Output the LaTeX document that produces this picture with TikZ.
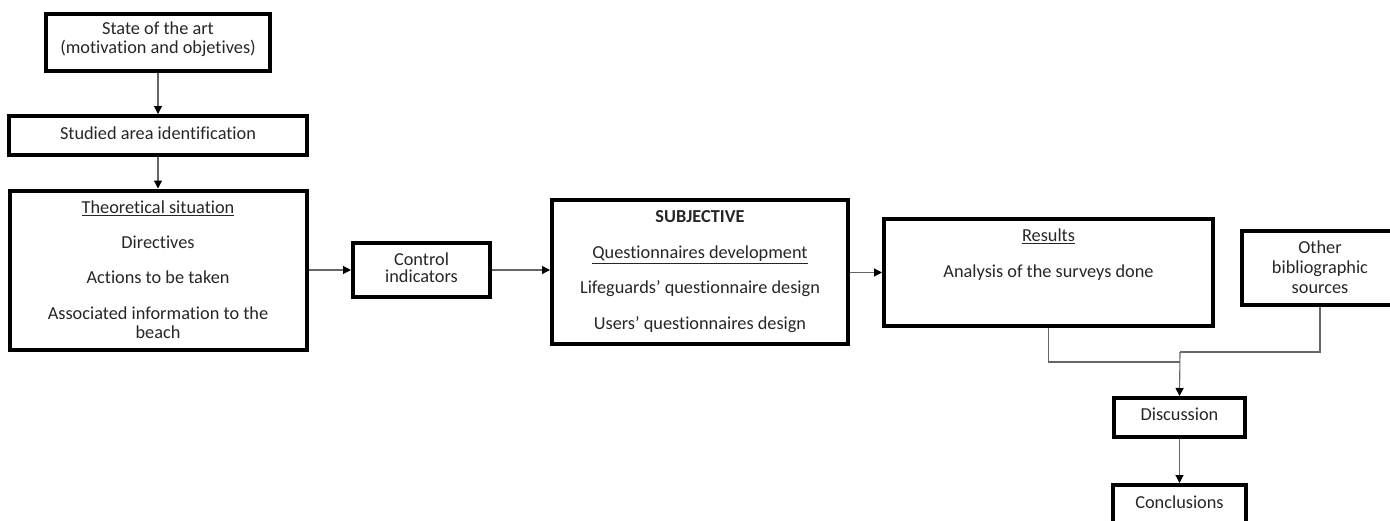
\documentclass[tikz,border=0pt]{standalone}
\usepackage{fontspec}
\setmainfont[Ligatures={NoCommon}]{Carlito}
\usetikzlibrary{arrows.meta}
\tikzset{
  box/.style={draw=black, line width=4pt, rectangle, inner sep=0pt},
  lbl/.style={inner sep=0pt, text height=13pt, text depth=4pt, yshift=-2pt, font=\fontsize{18.3}{19}\selectfont, text=black!85},
  link/.style={draw=black!60, line width=1.1pt},
  arr/.style={link, -{Triangle[length=8pt,width=8pt,color=black]}},
}
\begin{document}
\begin{tikzpicture}[x=1pt,y=-1pt]
\useasboundingbox (0,0) rectangle (1390,520);
\clip (0,0) rectangle (1390,520);

% boxes
\node[box, minimum width=224pt, minimum height=57pt] (state) at (158,42.5) {};
\node[box, minimum width=298pt, minimum height=39pt] (area) at (158,135.5) {};
\node[box, minimum width=297pt, minimum height=159pt] (theo) at (158,270) {};
\node[box, minimum width=137pt, minimum height=54pt] (ctrl) at (421.5,270) {};
\node[box, minimum width=296pt, minimum height=144pt] (subj) at (700,272) {};
\node[box, minimum width=329pt, minimum height=107pt] (res) at (1048.5,272.5) {};
\node[box, minimum width=156pt, minimum height=74pt] (other) at (1320,268) {};
\node[box, minimum width=131pt, minimum height=39pt] (disc) at (1179.5,417.5) {};
\node[box, minimum width=133pt, minimum height=50pt] (concl) at (1179.5,510) {};

% texts
\node[lbl] (t-state1) at (158,28) {State of the art};
\node[lbl] (t-state2) at (158,47) {(motivation and objetives)};
\node[lbl] (t-area) at (158,133) {Studied area identification};
\node[lbl] (t-theo1) at (158,207) {\underline{Theoretical situation}};
\node[lbl] (t-theo2) at (158,242) {Directives};
\node[lbl] (t-theo3) at (158,277) {Actions to be taken};
\node[lbl] (t-theo4) at (158,313) {Associated information to the};
\node[lbl] (t-theo5) at (158,332) {beach};
\node[lbl] (t-ctrl1) at (421.5,259) {Control};
\node[lbl] (t-ctrl2) at (421.5,276) {indicators};
\node[lbl] (t-subj1) at (700,216) {\bfseries SUBJECTIVE};
\node[lbl] (t-subj2) at (700,252) {\underline{Questionnaires development}};
\node[lbl] (t-subj3) at (700,287) {Lifeguards’ questionnaire design};
\node[lbl] (t-subj4) at (700,323) {Users’ questionnaires design};
\node[lbl] (t-res1) at (1048.5,235) {\underline{Results}};
\node[lbl] (t-res2) at (1048.5,271) {Analysis of the surveys done};
\node[lbl] (t-oth1) at (1320,247) {Other};
\node[lbl] (t-oth2) at (1320,267) {bibliographic};
\node[lbl] (t-oth3) at (1320,287) {sources};
\node[lbl] (t-disc) at (1179.5,414) {Discussion};
\node[lbl] (t-concl) at (1179.5,502) {Conclusions};

% junction points of the merging connectors
\coordinate (j-oth) at (1180,352);
\coordinate (j-res) at (1180,362);

% connectors
\draw[arr] (state.south) -- (area.north);
\draw[arr] (area.south) -- (theo.north);
\draw[arr] (theo.east) -- (ctrl.west);
\draw[arr] (ctrl.east) -- (ctrl.east -| subj.west);
\draw[arr] (subj.east |- res.west) -- (res.west);
\draw[link] (res.south) |- (j-res);
\draw[link] (other.south) |- (j-oth);
\draw[arr] (j-oth) -- (disc.north);
\draw[arr] (disc.south) -- (concl.north);
\end{tikzpicture}
\end{document}
